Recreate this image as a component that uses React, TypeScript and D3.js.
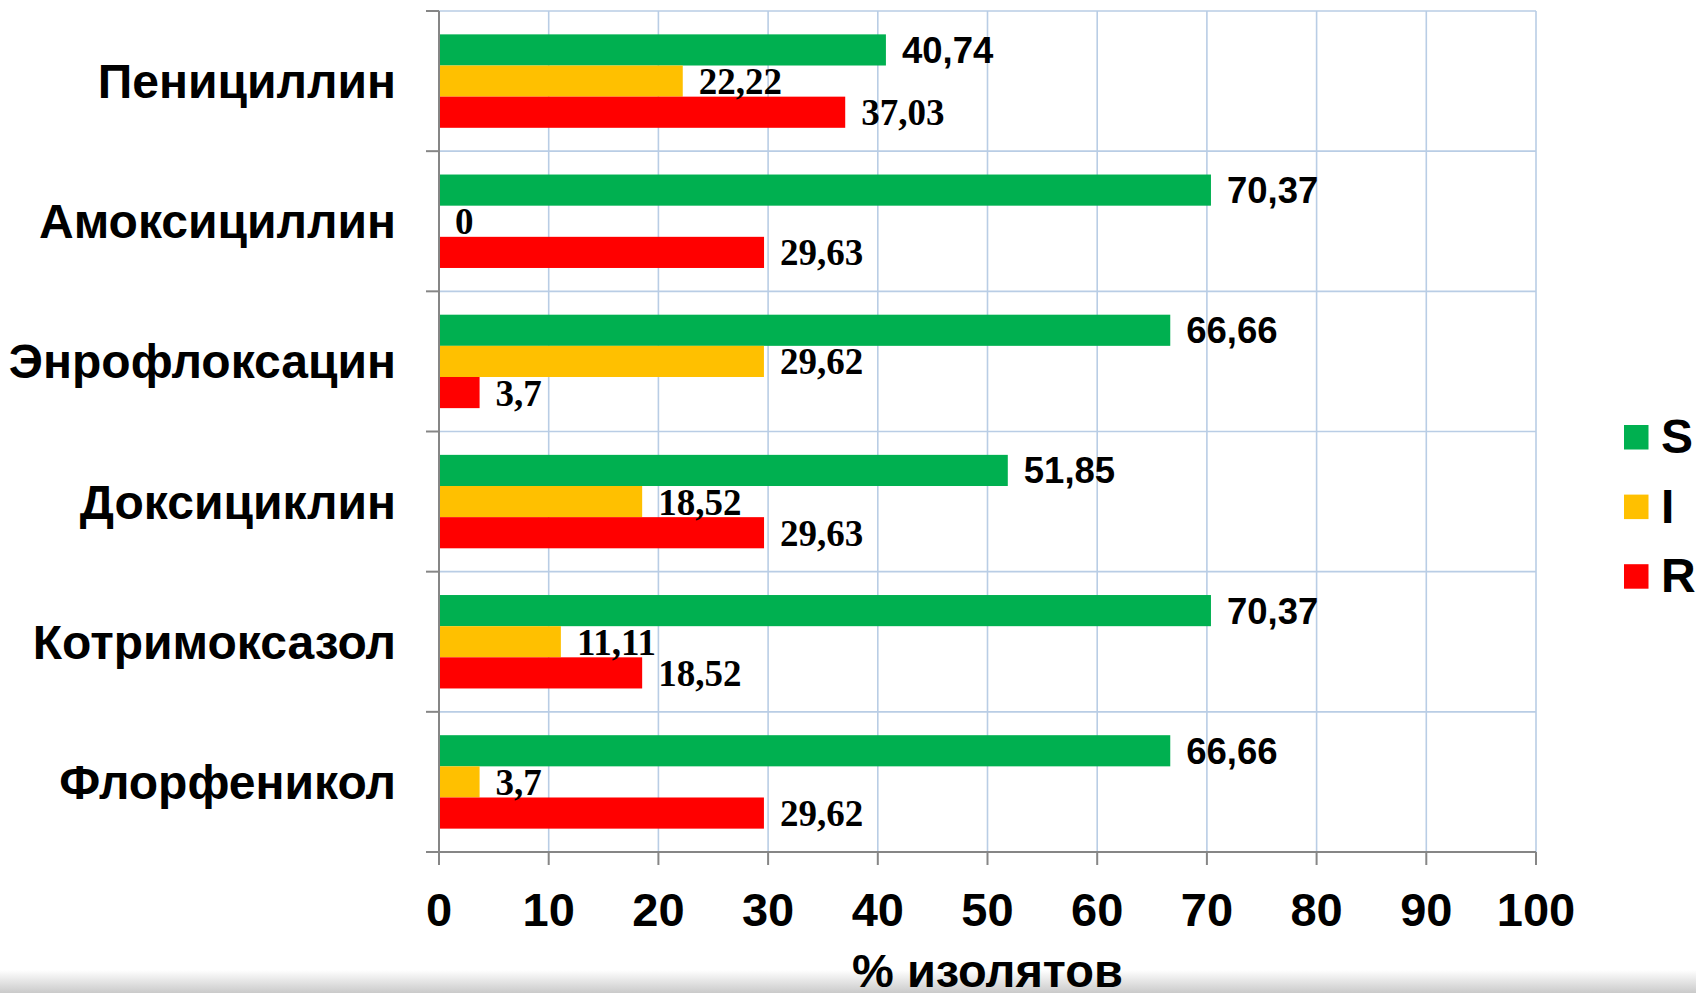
import React from "react";
import * as d3 from "d3";

const categories = ["Пенициллин", "Амоксициллин", "Энрофлоксацин", "Доксициклин", "Котримоксазол", "Флорфеникол"];
const seriesNames = ["S", "I", "R"];
const valuesS = [40.74, 70.37, 66.66, 51.85, 70.37, 66.66];
const valuesI = [22.22, 0, 29.62, 18.52, 11.11, 3.7];
const valuesR = [37.03, 29.63, 3.7, 29.63, 18.52, 29.62];
const xTicks = [0, 10, 20, 30, 40, 50, 60, 70, 80, 90, 100];
const xTitle = "% изолятов";

const colors = ["#00B050", "#FFC000", "#FF0000"];
const sans = "'Liberation Sans', Arial, sans-serif";
const serif = "'Liberation Serif', 'Times New Roman', serif";

const App = () => {
    const width = 1696
    const height = 993
    const left = 439
    const right = 1536
    const top = 11
    const bottom = 852

    const series = [valuesS, valuesI, valuesR]

    const x = d3.scaleLinear().domain([0, 100]).range([left, right])
    const y0 = d3.scaleBand<string>().domain(categories).range([top, bottom]).padding(0)
    const y1 = d3.scaleBand<string>().domain(seriesNames).range([0, y0.bandwidth()])
        .paddingInner(0).paddingOuter(0.75)

    const fmt = (v: number) => String(v).replace(".", ",")

    const boundaries = categories.map((c) => y0(c) as number).concat([bottom])

    return (
        <svg width={width} height={height} style={{ position: "absolute", left: 0, top: 0, display: "block", background: "#fff" }}>
            <defs>
                <linearGradient id="shade" x1="0" y1="0" x2="0" y2="1">
                    <stop offset="0" stopColor="#ffffff" />
                    <stop offset="1" stopColor="#c4c4c4" />
                </linearGradient>
            </defs>

            {/* bottom shadow of the slide */}
            <rect x={0} y={970} width={width} height={height - 970} fill="url(#shade)" opacity={0.9} />

            {/* grid */}
            {xTicks.map((t) => (
                <line key={"gx" + t} x1={x(t)} x2={x(t)} y1={top} y2={bottom} stroke="#B9CDE5" strokeWidth={1.6} />
            ))}
            {boundaries.map((b, i) => (
                <line key={"gy" + i} x1={left} x2={right} y1={b} y2={b} stroke="#B9CDE5" strokeWidth={1.6} />
            ))}

            {/* bars */}
            {categories.map((c, i) => (
                <g key={c} transform={`translate(0,${y0(c)})`}>
                    {series.map((vals, j) => (
                        <rect key={j}
                            x={x(0)}
                            y={y1(seriesNames[j])}
                            width={x(vals[i]) - x(0)}
                            height={y1.bandwidth()}
                            fill={colors[j]} />
                    ))}
                </g>
            ))}

            {/* axes */}
            <line x1={left} x2={left} y1={top} y2={bottom} stroke="#868686" strokeWidth={2} />
            <line x1={left - 13} x2={right} y1={bottom} y2={bottom} stroke="#868686" strokeWidth={2} />
            {boundaries.map((b, i) => (
                <line key={"ty" + i} x1={left - 13} x2={left} y1={b} y2={b} stroke="#868686" strokeWidth={2} />
            ))}
            {xTicks.map((t) => (
                <g key={"tx" + t}>
                    <line x1={x(t)} x2={x(t)} y1={bottom} y2={bottom + 13} stroke="#868686" strokeWidth={2} />
                    <text x={x(t)} y={926} textAnchor="middle" fontFamily={sans} fontWeight="bold" fontSize={47} fill="#000">{t}</text>
                </g>
            ))}

            {/* category labels */}
            {categories.map((c) => (
                <text key={"l" + c} x={396} y={(y0(c) as number) + y0.bandwidth() / 2 + 17}
                    textAnchor="end" fontFamily={sans} fontWeight="bold" fontSize={48} fill="#000">{c}</text>
            ))}

            {/* value labels */}
            {categories.map((c, i) => (
                <g key={"v" + c} transform={`translate(0,${y0(c)})`}>
                    {series.map((vals, j) => (
                        <text key={j}
                            x={x(vals[i]) + 16}
                            y={(y1(seriesNames[j]) as number) + y1.bandwidth() / 2 + 13}
                            fontFamily={j === 0 ? sans : serif}
                            fontWeight="bold"
                            fontSize={j === 0 ? 36.5 : 37}
                            fill="#000">{fmt(vals[i])}</text>
                    ))}
                </g>
            ))}

            {/* legend */}
            {seriesNames.map((s, j) => (
                <g key={"lg" + s} transform={`translate(1624,${425 + j * 69.6})`}>
                    <rect x={0} y={0} width={24.5} height={24.5} fill={colors[j]} />
                    <text x={37} y={28} fontFamily={sans} fontWeight="bold" fontSize={48} fill="#000">{s}</text>
                </g>
            ))}

            {/* x title */}
            <text x={(left + right) / 2} y={987} textAnchor="middle" fontFamily={sans} fontWeight="bold" fontSize={47} fill="#000">{xTitle}</text>
        </svg>
    )
}

export default App;
